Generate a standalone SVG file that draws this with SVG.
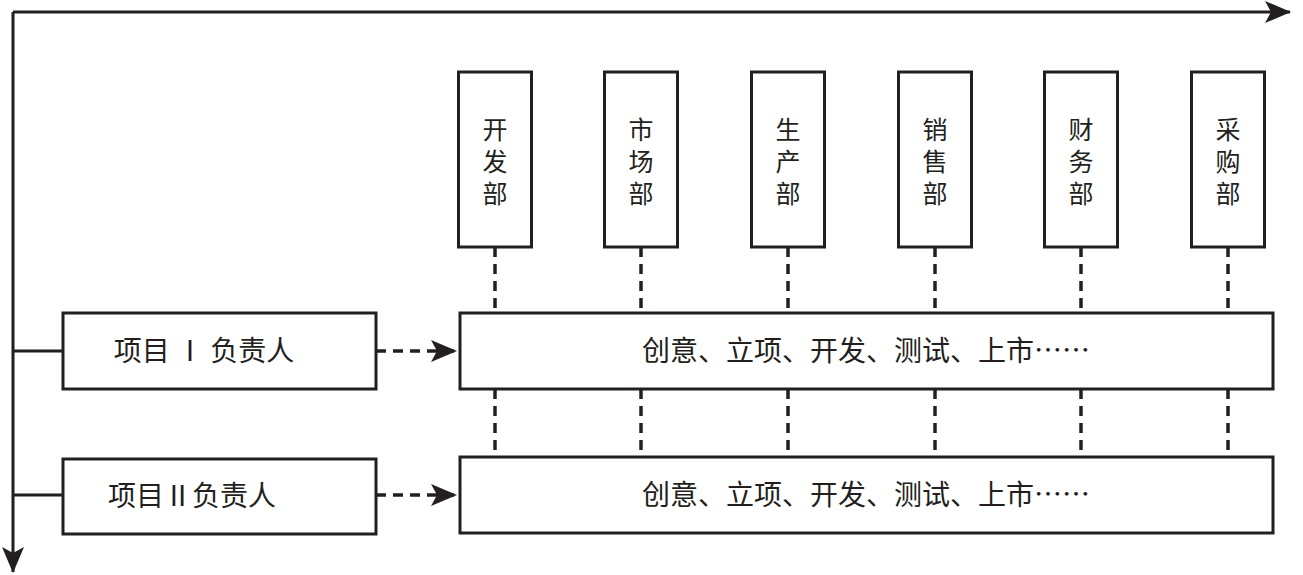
<svg xmlns="http://www.w3.org/2000/svg" width="1303" height="575" viewBox="0 0 1303 575">
<style>
.b{fill:#fff;stroke:#231f20;stroke-width:3}
.l{stroke:#231f20;stroke-width:3;fill:none}
.d{stroke:#231f20;stroke-width:3.5;fill:none;stroke-dasharray:10,7}
text{font-family:"Noto Sans CJK SC","Liberation Serif",serif;font-size:28px;fill:#231f20;text-anchor:middle}
.v{font-size:25px}
</style>
<defs>
<marker id="A" markerWidth="26" markerHeight="22" refX="25" refY="11" orient="auto" markerUnits="userSpaceOnUse"><path d="M0,0L26,11L0,22L6,11z" fill="#231f20"/></marker></defs>
<g id="connectors">
<path class="l" d="M13,12H1290" marker-end="url(#A)"/>
<path class="l" d="M13,12V572" marker-end="url(#A)"/>
<path class="l" d="M13,351H63M13,495H63"/>
<path class="d" d="M376,351H456" marker-end="url(#A)"/>
<path class="d" d="M376,495H456" marker-end="url(#A)"/>
<path class="d" d="M495,247V313M641,247V313M788,247V313M935,247V313M1081,247V313M1228,247V313"/>
<path class="d" d="M495,389V457M641,389V457M788,389V457M935,389V457M1081,389V457M1228,389V457"/>
</g>
<g id="d1"><rect class="b" x="458.5" y="72" width="73" height="175"/><text class="v"><tspan x="495" y="139">开</tspan><tspan x="495" y="171">发</tspan><tspan x="495" y="203">部</tspan></text></g>
<g id="d2"><rect class="b" x="604.5" y="72" width="73" height="175"/><text class="v"><tspan x="641" y="139">市</tspan><tspan x="641" y="171">场</tspan><tspan x="641" y="203">部</tspan></text></g>
<g id="d3"><rect class="b" x="751.5" y="72" width="73" height="175"/><text class="v"><tspan x="788" y="139">生</tspan><tspan x="788" y="171">产</tspan><tspan x="788" y="203">部</tspan></text></g>
<g id="d4"><rect class="b" x="898.5" y="72" width="73" height="175"/><text class="v"><tspan x="935" y="139">销</tspan><tspan x="935" y="171">售</tspan><tspan x="935" y="203">部</tspan></text></g>
<g id="d5"><rect class="b" x="1044.5" y="72" width="73" height="175"/><text class="v"><tspan x="1081" y="139">财</tspan><tspan x="1081" y="171">务</tspan><tspan x="1081" y="203">部</tspan></text></g>
<g id="d6"><rect class="b" x="1191.5" y="72" width="73" height="175"/><text class="v"><tspan x="1228" y="139">采</tspan><tspan x="1228" y="171">购</tspan><tspan x="1228" y="203">部</tspan></text></g>
<g id="p1"><rect class="b" x="63" y="313" width="313" height="76"/><text x="204" y="361">项目 Ⅰ 负责人</text></g>
<g id="p2"><rect class="b" x="63" y="459" width="313" height="75"/><text x="192" y="506">项目Ⅱ负责人</text></g>
<g id="s1"><rect class="b" x="460" y="313" width="813" height="76"/><text x="866" y="361">创意、立项、开发、测试、上市……</text></g>
<g id="s2"><rect class="b" x="460" y="457" width="813" height="76"/><text x="866" y="505">创意、立项、开发、测试、上市……</text></g>
</svg>
